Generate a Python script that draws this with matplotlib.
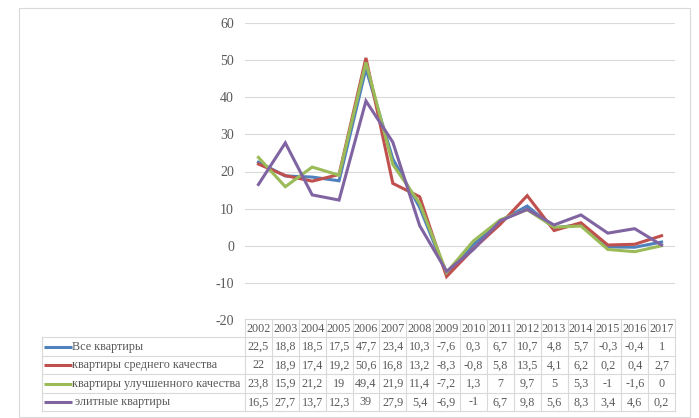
import matplotlib
matplotlib.use("Agg")
import matplotlib.pyplot as plt
from matplotlib.patches import Rectangle

plt.rcParams["axes.unicode_minus"] = False

years = [2002, 2003, 2004, 2005, 2006, 2007, 2008, 2009, 2010, 2011,
         2012, 2013, 2014, 2015, 2016, 2017]
series_names = ["Все квартиры", "квартиры среднего качества",
                "квартиры улучшенного качества", " элитные квартиры"]
all_flats = [22.5, 18.8, 18.5, 17.5, 47.7, 23.4, 10.3, -7.6, 0.3, 6.7,
             10.7, 4.8, 5.7, -0.3, -0.4, 1]
mid_flats = [22, 18.9, 17.4, 19.2, 50.6, 16.8, 13.2, -8.3, -0.8, 5.8,
             13.5, 4.1, 6.2, 0.2, 0.4, 2.7]
improved_flats = [23.8, 15.9, 21.2, 19, 49.4, 21.9, 11.4, -7.2, 1.3, 7,
                  9.7, 5, 5.3, -1, -1.6, 0]
elite_flats = [16.5, 27.7, 13.7, 12.3, 39, 27.9, 5.4, -6.9, -1, 6.7,
               9.8, 5.6, 8.3, 3.4, 4.6, 0.2]
series = [all_flats, mid_flats, improved_flats, elite_flats]
colors = ["#4F81BD", "#C0504D", "#9BBB59", "#8064A2"]
y_ticks = [-20, -10, 0, 10, 20, 30, 40, 50, 60]

W, H = 699, 418
text_col = "#595959"
grid_col = "#D9D9D9"
font = "Liberation Serif"
fs = 8.7

fig = plt.figure(figsize=(W / 100, H / 100), dpi=100)

# outer chart frame
fig.add_artist(Rectangle((19 / W, 1 - 417 / H), (690 - 19) / W, (417 - 8) / H,
                         transform=fig.transFigure, fill=False,
                         edgecolor="#D9D9D9", lw=0.8))

# plot area
x0, x1 = 245, 675
y_top, y_bot = 23, 320
ax = fig.add_axes([x0 / W, 1 - y_bot / H, (x1 - x0) / W, (y_bot - y_top) / H])
n = len(years)
xs = list(range(n))
for vals, c in zip(series, colors):
    ax.plot(xs, vals, color=c, lw=2.2, solid_joinstyle="miter")
ax.set_xlim(-0.5, n - 0.5)
ax.set_ylim(-20, 60)
ax.set_yticks(y_ticks)
for t in y_ticks[1:]:
    ax.axhline(t, color=grid_col, lw=0.8, zorder=0)
ax.set_xticks([])
ax.tick_params(axis="y", length=0, pad=8, labelcolor=text_col, labelsize=10)
for lab in ax.get_yticklabels():
    lab.set_fontfamily(font)
for s in ax.spines.values():
    s.set_visible(False)

# data table under the plot
t_left, t_top, t_bot = 42, 319, 411
head_h = 18
row_h = (t_bot - t_top - head_h) / 4
tab = fig.add_axes([0, 0, 1, 1])
tab.set_xlim(0, W)
tab.set_ylim(H, 0)
tab.axis("off")
col_w = (x1 - x0) / n
lc = "#D9D9D9"
tab.plot([x0, x1], [t_top, t_top], color=lc, lw=0.8)
for i in range(5):
    y = t_top + head_h + i * row_h
    tab.plot([t_left, x1], [y, y], color=lc, lw=0.8)
tab.plot([t_left, t_left], [t_top + head_h, t_bot], color=lc, lw=0.8)
for j in range(n + 1):
    x = x0 + j * col_w
    tab.plot([x, x], [t_top, t_bot], color=lc, lw=0.8)

fmt = lambda v: (f"{v:g}").replace(".", ",")
for j, yr in enumerate(years):
    tab.text(x0 + (j + 0.5) * col_w, t_top + head_h / 2 + 0.5, str(yr),
             ha="center", va="center", fontsize=fs, family=font, color=text_col)
for i, (name, vals, c) in enumerate(zip(series_names, series, colors)):
    yc = t_top + head_h + (i + 0.5) * row_h + 0.5
    tab.plot([44, 72], [yc, yc], color=c, lw=2.2, solid_capstyle="butt")
    tab.text(72, yc, name, ha="left", va="center", fontsize=fs,
             family=font, color=text_col)
    for j, v in enumerate(vals):
        tab.text(x0 + (j + 0.5) * col_w, yc, fmt(v), ha="center", va="center",
                 fontsize=fs, family=font, color=text_col)

fig.savefig("out.png", dpi=100)
